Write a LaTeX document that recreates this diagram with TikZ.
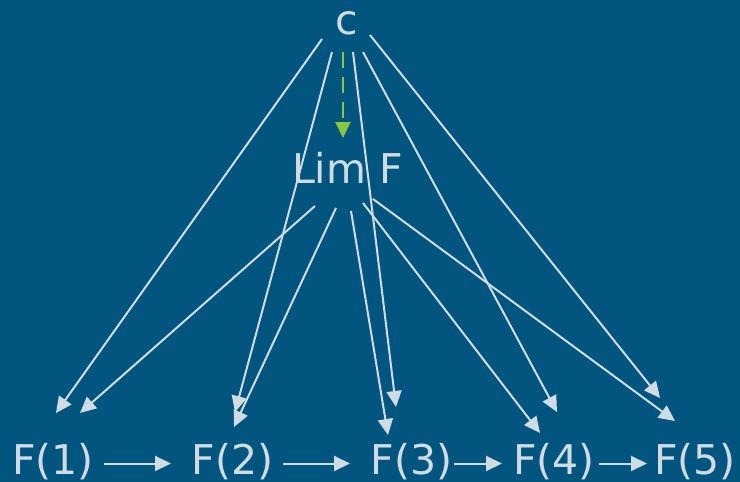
\documentclass[tikz,border=0pt]{standalone}
\usepackage{fontspec}
\setmainfont{DejaVu Sans}
\usetikzlibrary{arrows.meta}
\definecolor{bgblue}{HTML}{02557F}
\definecolor{fg}{HTML}{D0DCE4}
\definecolor{lime}{HTML}{8CC63F}
\begin{document}
\begin{tikzpicture}[x=1pt,y=-1pt,
  lbl/.style={anchor=base,inner sep=0pt,text=fg,font=\fontsize{41}{48}\selectfont},
  edge/.style={draw=fg,line width=2pt,-{Triangle[length=16pt,width=15pt]}},
  limedge/.style={draw=lime,line width=2pt,dash pattern=on 16pt off 9pt,-{Triangle[length=16pt,width=15pt]}}]
\fill[bgblue] (0,0) rectangle (740,482);
\useasboundingbox (0,0) rectangle (740,482);
\node[lbl] (c) at (346.5,34) {c};
\node[lbl] (limf) at (347.5,183) {Lim F};
\node[lbl] (f1) at (53,474) {F(1)};
\node[lbl] (f2) at (232.5,474) {F(2)};
\node[lbl] (f3) at (411.5,474) {F(3)};
\node[lbl] (f4) at (554,474) {F(4)};
\node[lbl] (f5) at (695,474) {F(5)};
% c to F(i)
\draw[edge] ([shift={(-24.5,5)}]c.base) -- ([shift={(3,-61)}]f1.base);
\draw[edge] ([shift={(-14.5,18)}]c.base) -- ([shift={(2.5,-62)}]f2.base);
\draw[edge] ([shift={(6.5,18)}]c.base) -- ([shift={(-15.5,-67)}]f3.base);
\draw[edge] ([shift={(16.5,18)}]c.base) -- ([shift={(3,-62)}]f4.base);
\draw[edge] ([shift={(23.5,1)}]c.base) -- ([shift={(-35,-76)}]f5.base);
% c to Lim F
\draw[limedge] ([shift={(-3.5,18)}]c.base) -- ([shift={(-4.5,-45)}]limf.base);
% Lim F to F(i)
\draw[edge] ([shift={(-32.5,23)}]limf.base) -- ([shift={(27,-61)}]f1.base);
\draw[edge] ([shift={(-11.5,25)}]limf.base) -- ([shift={(1.5,-47)}]f2.base);
\draw[edge] ([shift={(3.5,28)}]limf.base) -- ([shift={(-23.5,-39)}]f3.base);
\draw[edge] ([shift={(15.5,20)}]limf.base) -- ([shift={(-14,-41)}]f4.base);
\draw[edge] ([shift={(25.5,16)}]limf.base) -- ([shift={(-20,-53)}]f5.base);
% chain
\draw[edge] ([shift={(51,-10.5)}]f1.base) -- ([shift={(-61.5,-10.5)}]f2.base);
\draw[edge] ([shift={(50.5,-10.5)}]f2.base) -- ([shift={(-61.5,-10.5)}]f3.base);
\draw[edge] ([shift={(42.5,-10.5)}]f3.base) -- ([shift={(-52,-10.5)}]f4.base);
\draw[edge] ([shift={(45,-10.5)}]f4.base) -- ([shift={(-48,-10.5)}]f5.base);
\end{tikzpicture}
\end{document}
